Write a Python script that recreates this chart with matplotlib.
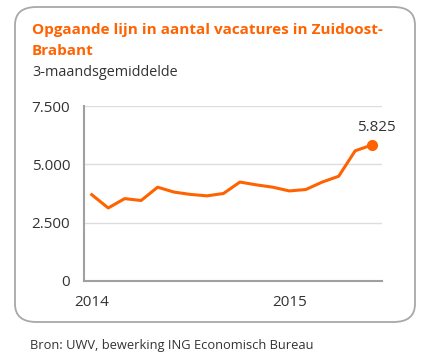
import matplotlib
matplotlib.use("Agg")
import matplotlib.pyplot as plt
from matplotlib.patches import FancyBboxPatch

# 3-maandsgemiddelde vacatures, jan 2014 - jun 2015
months = list(range(18))
vacatures = [3700, 3130, 3530, 3450, 4020, 3810, 3710, 3650, 3750,
             4240, 4120, 4020, 3860, 3920, 4240, 4490, 5580, 5825]
year_ticks = [0, 12]
year_labels = ["2014", "2015"]
y_ticks = [0, 2500, 5000, 7500]
y_labels = ["0", "2.500", "5.000", "7.500"]

orange = "#FF6200"
grey = "#333333"
plt.rcParams["font.family"] = ["Open Sans", "DejaVu Sans"]

fig = plt.figure(figsize=(4.3, 3.6), dpi=100)

# rounded border around chart block
box = FancyBboxPatch((15 / 430, 1 - 322 / 360), 400 / 430, 315 / 360,
                     boxstyle="round,pad=0,rounding_size=0.05",
                     transform=fig.transFigure, fill=False,
                     edgecolor="#a8a8a8", linewidth=1.3)
fig.patches.append(box)

fig.text(32 / 430, 1 - 30 / 360, "Opgaande lijn in aantal vacatures in Zuidoost-",
         color=orange, fontsize=11, fontweight="bold", va="center")
fig.text(32 / 430, 1 - 51 / 360, "Brabant",
         color=orange, fontsize=11, fontweight="bold", va="center")
fig.text(32 / 430, 1 - 72 / 360, "3-maandsgemiddelde", color=grey,
         fontsize=10.4, va="center")
fig.text(30 / 430, 1 - 345 / 360, "Bron: UWV, bewerking ING Economisch Bureau",
         color=grey, fontsize=9.3, va="center")

ax = fig.add_axes([84 / 430, 1 - 281 / 360, 298 / 430, 175 / 360])
ax.plot(months, vacatures, color=orange, linewidth=2.2, solid_joinstyle="round")
ax.plot(months[-1], vacatures[-1], "o", color=orange, markersize=7)
ax.annotate("5.825", (months[-1], vacatures[-1]), xytext=(3.5, 7),
            textcoords="offset points", ha="center", va="bottom",
            color=grey, fontsize=11)

ax.set_xlim(-0.47, 17.63)
ax.set_ylim(0, 7500)
ax.set_yticks(y_ticks)
ax.set_yticklabels(y_labels)
ax.set_xticks(year_ticks)
ax.set_xticklabels(year_labels)
ax.tick_params(length=0, labelsize=11, colors=grey)
ax.tick_params(axis="y", pad=10)
ax.tick_params(axis="x", pad=10)
ax.grid(axis="y", color="#dddddd", linewidth=1)
ax.set_axisbelow(True)
for s in ["top", "right"]:
    ax.spines[s].set_visible(False)
for s in ["left", "bottom"]:
    ax.spines[s].set_color("#a0a0a0")
    ax.spines[s].set_linewidth(1.5)

fig.savefig("out.png", dpi=100)
